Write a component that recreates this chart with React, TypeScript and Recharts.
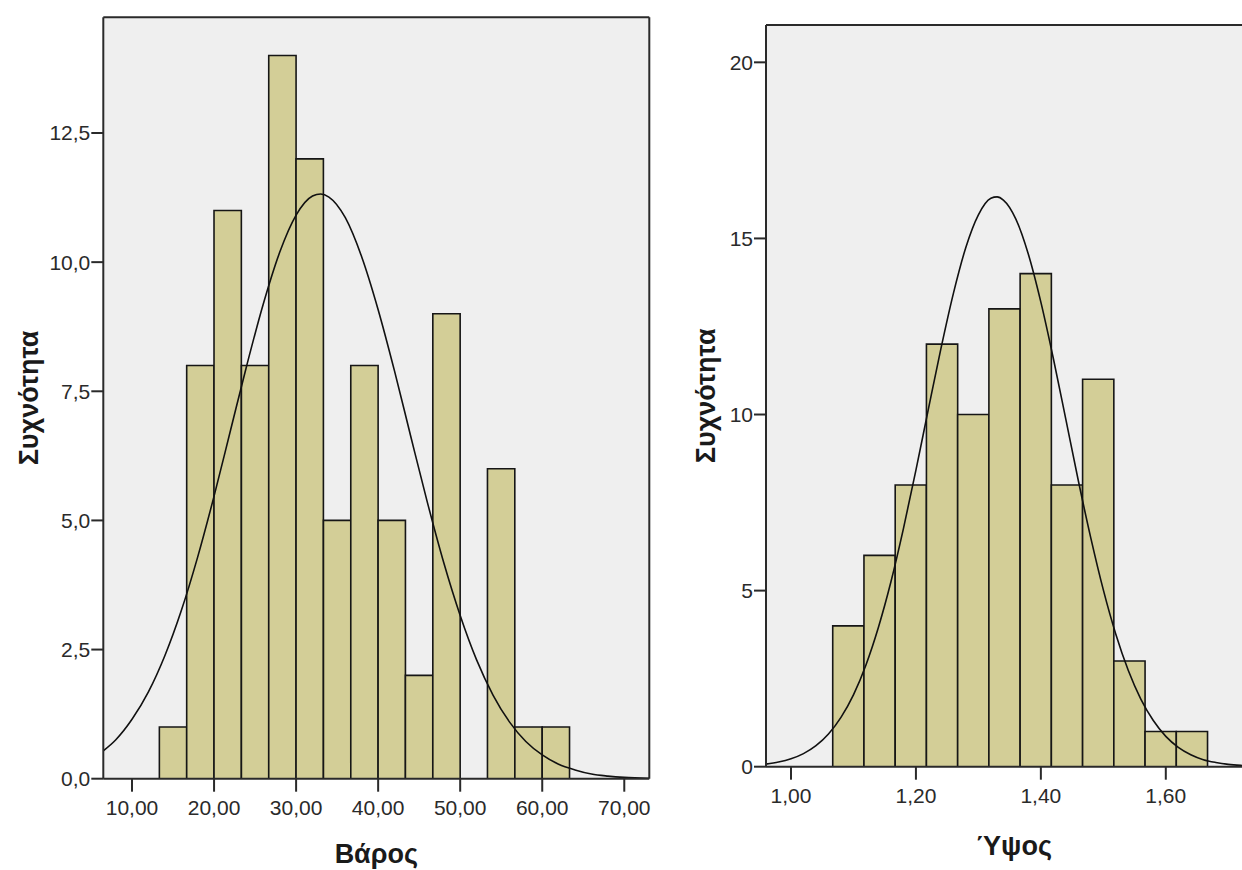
import { Bar, CartesianGrid, ComposedChart, Label, Line, Rectangle, ReferenceLine, XAxis, YAxis } from 'recharts'

// Βάρος histogram (bin centres, counts) + fitted normal
const weightBins = [15.02, 18.35, 21.68, 25.02, 28.35, 31.68, 35.02, 38.35, 41.68, 45.01, 48.35, 51.68, 55.01, 58.35, 61.68]
const weightCounts = [1, 8, 11, 8, 14, 12, 5, 8, 5, 2, 9, 0, 6, 1, 1]
const weightCurveX = [6.5, 8, 10, 12, 14, 16, 18, 20, 22, 24, 26, 28, 30, 32, 33, 34, 36, 38, 40, 42, 44, 46, 48, 50, 52, 54, 56, 58, 60, 62, 64, 66, 68, 70, 73]
const weightCurveY = [0.54, 0.75, 1.15, 1.68, 2.38, 3.25, 4.29, 5.47, 6.74, 8.01, 9.19, 10.19, 10.91, 11.28, 11.32, 11.26, 10.86, 10.1, 9.08, 7.89, 6.61, 5.35, 4.18, 3.16, 2.3, 1.62, 1.1, 0.72, 0.46, 0.28, 0.17, 0.09, 0.05, 0.025, 0.01]
const weightXTicks = [10, 20, 30, 40, 50, 60, 70]
const weightYTicks = [0, 2.5, 5, 7.5, 10, 12.5]

// Ύψος histogram
const heightBins = [1.092, 1.142, 1.192, 1.242, 1.292, 1.342, 1.392, 1.442, 1.492, 1.542, 1.592, 1.642]
const heightCounts = [4, 6, 8, 12, 10, 13, 14, 8, 11, 3, 1, 1]
const heightCurveX = [0.96, 0.98, 1.0, 1.02, 1.04, 1.06, 1.08, 1.1, 1.12, 1.14, 1.16, 1.18, 1.2, 1.22, 1.24, 1.26, 1.28, 1.3, 1.32, 1.33, 1.34, 1.36, 1.38, 1.4, 1.42, 1.44, 1.46, 1.48, 1.5, 1.52, 1.54, 1.56, 1.58, 1.6, 1.62, 1.64, 1.66, 1.68, 1.7, 1.72, 1.75]
const heightCurveY = [0.074, 0.131, 0.224, 0.371, 0.596, 0.928, 1.4, 2.04, 2.89, 3.96, 5.25, 6.76, 8.42, 10.16, 11.87, 13.44, 14.75, 15.67, 16.14, 16.18, 16.09, 15.55, 14.55, 13.19, 11.59, 9.86, 8.12, 6.49, 5.02, 3.76, 2.73, 1.92, 1.31, 0.86, 0.55, 0.34, 0.2, 0.12, 0.067, 0.037, 0.015]
const heightXTicks = [1.0, 1.2, 1.4, 1.6]
const heightYTicks = [0, 5, 10, 15, 20]

const FONT = '"Liberation Sans", Arial, sans-serif'
const INK = '#2a2a2a'
const BAR_FILL = '#d3ce97'
const PLOT_BG = '#efefef'

const comma = (digits: number) => (v: number) => v.toFixed(digits).replace('.', ',')

type HistProps = {
  bins: number[]
  counts: number[]
  curveX: number[]
  curveY: number[]
  binWidth: number
  xDomain: [number, number]
  yDomain: [number, number]
  xTicks: number[]
  yTicks: number[]
  xDigits: number
  yDigits: number
  xLabel: string
  width: number
  margin: { top: number; right: number; bottom: number; left: number }
  yLabelOffset: number
  xLabelOffset: number
}

const H = 870
const Y_AXIS_W = 60
const X_AXIS_H = 60

function Histogram(p: HistProps) {
  const data = p.bins.map((x, i) => ({ x, count: p.counts[i] }))
  const curve = p.curveX.map((x, i) => ({ x, y: p.curveY[i] }))
  const plotW = p.width - p.margin.left - p.margin.right - Y_AXIS_W
  // full bin width in px; recharts truncates band sizes to whole pixels, which leaves gaps
  const binPx = (plotW / (p.xDomain[1] - p.xDomain[0])) * p.binWidth
  const tickStyle = { fill: INK, fontSize: 21, fontFamily: FONT }
  const lineStyle = { stroke: INK, strokeWidth: 2 }
  const labelStyle = { fill: '#1a1a1a', fontSize: 27, fontWeight: 700, fontFamily: FONT }
  const binShape = (props: any) => {
    const cx = props.x + props.width / 2
    return <Rectangle {...props} x={cx - binPx / 2} width={binPx} />
  }
  return (
    <ComposedChart width={p.width} height={H} data={data} margin={p.margin} barCategoryGap={0}>
      <CartesianGrid fill={PLOT_BG} horizontal={false} vertical={false} />
      <XAxis
        dataKey="x"
        type="number"
        domain={p.xDomain}
        allowDataOverflow
        ticks={p.xTicks}
        tickFormatter={comma(p.xDigits)}
        tick={tickStyle}
        tickSize={13}
        tickMargin={8}
        tickLine={lineStyle}
        axisLine={lineStyle}
        height={X_AXIS_H}
      >
        <Label value={p.xLabel} position="bottom" offset={p.xLabelOffset} style={labelStyle} />
      </XAxis>
      {/* hidden axis that carries the fitted curve, so bar widths follow the bins only */}
      <XAxis xAxisId="curve" orientation="top" dataKey="x" type="number" domain={p.xDomain} allowDataOverflow height={0} tick={false} tickLine={false} axisLine={false} />
      <YAxis
        type="number"
        domain={p.yDomain}
        allowDataOverflow
        ticks={p.yTicks}
        tickFormatter={comma(p.yDigits)}
        tick={tickStyle}
        tickSize={12}
        tickMargin={1}
        tickLine={lineStyle}
        axisLine={lineStyle}
        width={Y_AXIS_W}
      >
        <Label value="Συχνότητα" angle={-90} position="insideLeft" offset={p.yLabelOffset} style={{ ...labelStyle, textAnchor: 'middle' }} />
      </YAxis>
      <ReferenceLine y={p.yDomain[1]} stroke={INK} strokeWidth={2} />
      <ReferenceLine x={p.xDomain[1]} stroke={INK} strokeWidth={2} />
      <Bar dataKey="count" fill={BAR_FILL} stroke="#161616" strokeWidth={1.6} shape={binShape} isAnimationActive={false} />
      <Line data={curve} xAxisId="curve" dataKey="y" type="monotone" stroke="#111" strokeWidth={1.6} dot={false} activeDot={false} isAnimationActive={false} />
    </ComposedChart>
  )
}

export default function App() {
  return (
    <div style={{ position: 'absolute', left: 0, top: 0, width: 1242, height: H, overflow: 'hidden', background: '#fff' }}>
      <div style={{ position: 'absolute', left: 0, top: 0 }}>
        <Histogram
          bins={weightBins}
          counts={weightCounts}
          curveX={weightCurveX}
          curveY={weightCurveY}
          binWidth={3.333}
          xDomain={[6.5, 73.05]}
          yDomain={[0, 14.74]}
          xTicks={weightXTicks}
          yTicks={weightYTicks}
          xDigits={2}
          yDigits={1}
          xLabel="Βάρος"
          width={660}
          margin={{ top: 17.3, right: 10.7, bottom: 31.3, left: 43.3 }}
          yLabelOffset={-15}
          xLabelOffset={5}
        />
      </div>
      <div style={{ position: 'absolute', left: 660, top: 0 }}>
        <Histogram
          bins={heightBins}
          counts={heightCounts}
          curveX={heightCurveX}
          curveY={heightCurveY}
          binWidth={0.05}
          xDomain={[0.96, 1.754]}
          yDomain={[0, 21.06]}
          xTicks={heightXTicks}
          yTicks={heightYTicks}
          xDigits={2}
          yDigits={0}
          xLabel="Ύψος"
          width={602}
          margin={{ top: 25, right: 0, bottom: 43.3, left: 46 }}
          yLabelOffset={-1}
          xLabelOffset={9}
        />
      </div>
    </div>
  )
}
